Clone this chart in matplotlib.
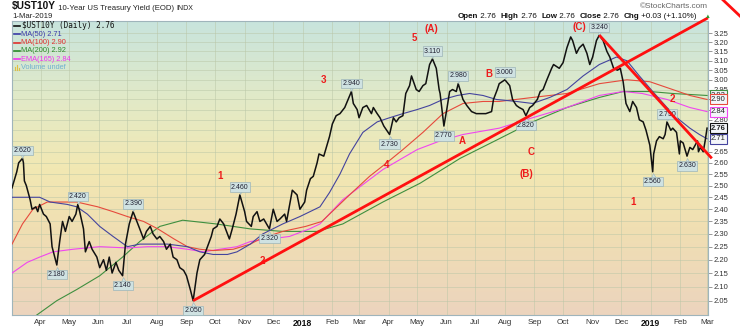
import numpy as np
import pandas as pd
import matplotlib
matplotlib.use("Agg")
from matplotlib import pyplot as plt
from matplotlib.colors import LinearSegmentedColormap
from matplotlib.lines import Line2D
from matplotlib.transforms import offset_copy
from matplotlib.ticker import FixedLocator, NullLocator, NullFormatter, FuncFormatter

plt.rcParams['font.family'] = 'sans-serif'
plt.rcParams['font.sans-serif'] = ['Liberation Sans', 'DejaVu Sans']

# --- daily close of the 10 year yield (%) ---
dates = [
    '2017-03-02', '2017-03-07', '2017-03-09', '2017-03-13', '2017-03-14', '2017-03-15', '2017-03-17',
    '2017-03-21', '2017-03-23', '2017-03-27', '2017-03-29', '2017-03-31', '2017-04-04', '2017-04-07',
    '2017-04-11', '2017-04-13', '2017-04-18', '2017-04-21', '2017-04-24', '2017-04-27', '2017-05-01',
    '2017-05-04', '2017-05-08', '2017-05-10', '2017-05-12', '2017-05-16', '2017-05-18', '2017-05-22',
    '2017-05-25', '2017-05-30', '2017-06-02', '2017-06-06', '2017-06-09', '2017-06-12', '2017-06-15',
    '2017-06-19', '2017-06-22', '2017-06-26', '2017-06-29', '2017-07-03', '2017-07-07', '2017-07-11',
    '2017-07-14', '2017-07-18', '2017-07-21', '2017-07-25', '2017-07-28', '2017-08-01', '2017-08-04',
    '2017-08-08', '2017-08-11', '2017-08-15', '2017-08-18', '2017-08-22', '2017-08-25', '2017-08-29',
    '2017-09-01', '2017-09-05', '2017-09-08', '2017-09-12', '2017-09-15', '2017-09-20', '2017-09-22',
    '2017-09-27', '2017-09-29', '2017-10-03', '2017-10-06', '2017-10-10', '2017-10-16', '2017-10-19',
    '2017-10-23', '2017-10-27', '2017-11-01', '2017-11-03', '2017-11-08', '2017-11-10', '2017-11-14',
    '2017-11-17', '2017-11-21', '2017-11-27', '2017-11-29', '2017-12-01', '2017-12-05', '2017-12-08',
    '2017-12-13', '2017-12-15', '2017-12-21', '2017-12-26', '2017-12-29', '2018-01-03', '2018-01-05',
    '2018-01-09', '2018-01-12', '2018-01-16', '2018-01-18', '2018-01-23', '2018-01-29', '2018-02-01',
    '2018-02-05', '2018-02-09', '2018-02-14', '2018-02-21', '2018-02-23', '2018-02-27', '2018-03-01',
    '2018-03-05', '2018-03-09', '2018-03-14', '2018-03-16', '2018-03-20', '2018-03-23', '2018-03-27',
    '2018-04-02', '2018-04-04', '2018-04-06', '2018-04-09', '2018-04-12', '2018-04-16', '2018-04-19',
    '2018-04-23', '2018-04-25', '2018-04-30', '2018-05-03', '2018-05-07', '2018-05-10', '2018-05-14',
    '2018-05-17', '2018-05-21', '2018-05-24', '2018-05-25', '2018-05-29', '2018-06-01', '2018-06-04',
    '2018-06-07', '2018-06-11', '2018-06-13', '2018-06-18', '2018-06-22', '2018-06-27', '2018-07-02',
    '2018-07-06', '2018-07-12', '2018-07-18', '2018-07-20', '2018-07-24', '2018-07-26', '2018-08-01',
    '2018-08-06', '2018-08-09', '2018-08-13', '2018-08-16', '2018-08-20', '2018-08-23', '2018-08-27',
    '2018-08-30', '2018-09-04', '2018-09-07', '2018-09-10', '2018-09-14', '2018-09-19', '2018-09-21',
    '2018-09-27', '2018-10-01', '2018-10-05', '2018-10-09', '2018-10-11', '2018-10-15', '2018-10-18',
    '2018-10-22', '2018-10-26', '2018-10-29', '2018-11-01', '2018-11-05', '2018-11-08', '2018-11-12',
    '2018-11-16', '2018-11-19', '2018-11-23', '2018-11-27', '2018-11-30', '2018-12-03', '2018-12-06',
    '2018-12-10', '2018-12-13', '2018-12-17', '2018-12-20', '2018-12-24', '2018-12-27', '2018-12-31',
    '2019-01-03', '2019-01-04', '2019-01-07', '2019-01-10', '2019-01-14', '2019-01-16', '2019-01-18',
    '2019-01-22', '2019-01-24', '2019-01-28', '2019-01-31', '2019-02-01', '2019-02-04', '2019-02-08',
    '2019-02-11', '2019-02-14', '2019-02-19', '2019-02-20', '2019-02-22', '2019-02-25', '2019-02-27',
    '2019-03-01',
]
ust10y = [
    2.49, 2.56, 2.60, 2.62, 2.60, 2.52, 2.50,
    2.44, 2.40, 2.41, 2.39, 2.42, 2.38, 2.37,
    2.34, 2.25, 2.18, 2.27, 2.35, 2.31, 2.37,
    2.35, 2.38, 2.42, 2.39, 2.32, 2.23, 2.27,
    2.24, 2.21, 2.17, 2.20, 2.16, 2.21, 2.15,
    2.19, 2.16, 2.14, 2.26, 2.34, 2.39, 2.35,
    2.32, 2.28, 2.31, 2.33, 2.30, 2.28, 2.29,
    2.27, 2.24, 2.26, 2.21, 2.20, 2.17, 2.16,
    2.14, 2.09, 2.05, 2.15, 2.20, 2.22, 2.24,
    2.29, 2.32, 2.33, 2.36, 2.34, 2.28, 2.32,
    2.38, 2.46, 2.39, 2.35, 2.33, 2.37, 2.39,
    2.35, 2.36, 2.32, 2.36, 2.40, 2.35, 2.36,
    2.38, 2.35, 2.48, 2.46, 2.40, 2.43, 2.48,
    2.53, 2.54, 2.60, 2.64, 2.63, 2.72, 2.78,
    2.82, 2.83, 2.86, 2.94, 2.88, 2.85, 2.81,
    2.86, 2.87, 2.83, 2.86, 2.83, 2.81, 2.77,
    2.73, 2.77, 2.81, 2.79, 2.81, 2.82, 2.93,
    2.97, 3.02, 2.95, 2.94, 2.97, 2.98, 3.08,
    3.11, 3.06, 2.95, 2.93, 2.77, 2.85, 2.94,
    2.95, 2.94, 2.98, 2.90, 2.87, 2.84, 2.83,
    2.83, 2.83, 2.84, 2.90, 2.95, 2.98, 3.00,
    2.97, 2.90, 2.87, 2.86, 2.85, 2.82, 2.86,
    2.87, 2.90, 2.94, 2.95, 3.00, 3.06, 3.08,
    3.06, 3.09, 3.17, 3.23, 3.21, 3.14, 3.17,
    3.19, 3.14, 3.08, 3.12, 3.21, 3.24, 3.21,
    3.15, 3.12, 3.06, 3.05, 3.06, 2.99, 2.88,
    2.84, 2.89, 2.86, 2.80, 2.79, 2.75, 2.68,
    2.56, 2.64, 2.70, 2.72, 2.71, 2.73, 2.79,
    2.75, 2.76, 2.74, 2.64, 2.70, 2.69, 2.63,
    2.67, 2.66, 2.70, 2.65, 2.67, 2.65, 2.70,
    2.76,
]

# --- moving averages, sampled along the curves ---
ma50_dates = ['2017-03-02', '2017-03-21', '2017-03-31', '2017-04-11', '2017-04-29', '2017-05-09',
              '2017-05-20', '2017-06-02', '2017-06-16', '2017-07-01', '2017-07-14', '2017-07-28',
              '2017-08-12', '2017-09-02', '2017-09-15', '2017-09-29', '2017-10-14', '2017-10-24',
              '2017-11-07', '2017-11-20', '2017-12-11', '2017-12-29', '2018-01-19', '2018-01-29',
              '2018-02-09', '2018-02-19', '2018-03-05', '2018-03-20', '2018-04-02', '2018-04-16',
              '2018-05-01', '2018-05-14', '2018-05-28', '2018-06-12', '2018-06-25', '2018-07-09',
              '2018-07-23', '2018-08-13', '2018-08-30', '2018-09-17', '2018-10-05', '2018-10-22',
              '2018-11-08', '2018-11-26', '2018-12-07', '2018-12-20', '2019-01-03', '2019-01-18',
              '2019-01-31', '2019-02-11', '2019-02-21', '2019-03-01']
ma50 = [2.45, 2.45, 2.45, 2.43, 2.42, 2.41,
        2.38, 2.33, 2.29, 2.25, 2.26, 2.26,
        2.26, 2.25, 2.23, 2.22, 2.22, 2.23,
        2.26, 2.30, 2.34, 2.37, 2.41, 2.47,
        2.55, 2.64, 2.74, 2.79, 2.81, 2.83,
        2.85, 2.87, 2.90, 2.92, 2.93, 2.92,
        2.90, 2.89, 2.88, 2.91, 2.95, 3.02,
        3.08, 3.12, 3.10, 3.02, 2.94, 2.86,
        2.80, 2.76, 2.73, 2.71]

ma100_dates = ['2017-03-02', '2017-03-13', '2017-03-24', '2017-04-08', '2017-04-22', '2017-05-09',
               '2017-05-31', '2017-06-16', '2017-07-01', '2017-07-18', '2017-08-02', '2017-08-19',
               '2017-09-02', '2017-09-15', '2017-09-29', '2017-10-20', '2017-11-07', '2017-11-17',
               '2017-12-11', '2018-01-04', '2018-01-21', '2018-02-19', '2018-03-12', '2018-03-30',
               '2018-04-16', '2018-05-07', '2018-05-28', '2018-06-18', '2018-07-09', '2018-07-26',
               '2018-08-30', '2018-10-05', '2018-11-08', '2018-12-07', '2018-12-31', '2019-01-24',
               '2019-02-11', '2019-03-01']
ma100 = [2.26, 2.34, 2.40, 2.43, 2.43, 2.43,
         2.41, 2.39, 2.37, 2.35, 2.32, 2.28,
         2.25, 2.24, 2.235, 2.24, 2.26, 2.28,
         2.31, 2.33, 2.35, 2.46, 2.54, 2.60,
         2.66, 2.74, 2.83, 2.88, 2.89, 2.89,
         2.91, 2.93, 2.98, 3.00, 2.99, 2.95,
         2.92, 2.90]

ma200_dates = ['2017-03-28', '2017-04-18', '2017-05-09', '2017-06-02', '2017-06-26', '2017-07-14',
               '2017-08-04', '2017-08-28', '2017-10-02', '2017-11-07', '2017-12-11', '2018-01-16',
               '2018-02-12', '2018-03-26', '2018-05-04', '2018-06-15', '2018-07-26', '2018-08-30',
               '2018-10-05', '2018-11-08', '2018-12-03', '2018-12-31', '2019-01-24', '2019-03-01']
ma200 = [2.00, 2.05, 2.09, 2.14, 2.21, 2.27,
         2.33, 2.355, 2.34, 2.32, 2.31, 2.31,
         2.34, 2.43, 2.51, 2.62, 2.71, 2.79,
         2.86, 2.91, 2.94, 2.94, 2.93, 2.92]

ema165_dates = ['2017-03-02', '2017-03-18', '2017-03-31', '2017-04-14', '2017-05-05', '2017-06-02',
                '2017-07-01', '2017-07-22', '2017-08-12', '2017-09-02', '2017-09-19', '2017-10-06',
                '2017-10-24', '2017-11-07', '2017-11-27', '2017-12-18', '2018-01-08', '2018-01-19',
                '2018-02-12', '2018-03-26', '2018-05-01', '2018-05-25', '2018-06-18', '2018-07-26',
                '2018-08-30', '2018-10-05', '2018-11-08', '2018-12-03', '2018-12-23', '2019-01-18',
                '2019-02-11', '2019-03-01']
ema165 = [2.15, 2.19, 2.21, 2.23, 2.24, 2.25,
          2.245, 2.25, 2.25, 2.24, 2.23, 2.24,
          2.25, 2.27, 2.28, 2.29, 2.32, 2.34,
          2.44, 2.57, 2.66, 2.70, 2.73, 2.76,
          2.81, 2.86, 2.92, 2.94, 2.93, 2.90,
          2.86, 2.84]

# peaks / troughs that get a value tag
tag_dates = ['2017-03-13', '2017-04-18', '2017-05-10', '2017-06-26', '2017-07-07', '2017-09-08',
             '2017-10-27', '2017-11-27', '2018-02-21', '2018-04-02', '2018-05-17', '2018-05-29',
             '2018-06-13', '2018-08-01', '2018-08-23', '2018-11-08', '2019-01-03', '2019-01-18',
             '2019-02-08']
tag_side = ['hi', 'lo', 'hi', 'lo', 'hi', 'lo', 'hi', 'lo', 'hi', 'lo', 'hi', 'lo',
            'hi', 'hi', 'lo', 'hi', 'lo', 'hi', 'lo']

# elliott wave counts
wave_text = ['1', '2', '3', '4', '5', '(A)', 'A', 'B', 'C', '(B)', '(C)', '1', '2']
wave_dates = ['2017-10-06', '2017-11-20', '2018-01-23', '2018-03-30', '2018-04-28', '2018-05-16',
              '2018-06-17', '2018-07-15', '2018-08-28', '2018-08-24', '2018-10-18', '2018-12-13',
              '2019-01-24']
wave_vals = [2.54, 2.197, 3.00, 2.59, 3.224, 3.274, 2.70, 3.03, 2.65, 2.55, 3.285, 2.43, 2.90]

# trend lines (start, end)
up_trend = (['2017-09-08', '2019-03-02'], [2.05, 3.338])
down_trend = (['2018-11-08', '2019-03-06'], [3.24, 2.62])

month_ticks = pd.date_range('2017-04-01', '2019-03-01', freq='MS')
y_ticks = np.round(np.arange(2.05, 3.2501, 0.05), 2)

# ------------------------------------------------------------------
W, H = 740, 327
fig = plt.figure(figsize=(W / 100, H / 100), dpi=100)
fig.patch.set_facecolor('white')


def fx(p):
    return p / W


def fy(p):
    return 1 - p / H


ax = fig.add_axes([fx(12), fy(315), (708 - 12) / W, (315 - 21) / H])

price = pd.Series(ust10y, index=pd.to_datetime(dates))

# background gradient
cmap = LinearSegmentedColormap.from_list('bg', [
    (0.0, '#ecd4be'), (0.3, '#f0dfb2'), (0.5, '#f2e8b3'), (0.72, '#e3eac6'), (1.0, '#c8e4dd')])
grad = np.linspace(0, 1, 256).reshape(-1, 1)
ax.imshow(grad, extent=[0, 1, 0, 1], transform=ax.transAxes, origin='lower',
          cmap=cmap, aspect='auto', zorder=0)

ax.set_yscale('log')
ax.set_ylim(2.0, 3.32)
ax.set_xlim(pd.Timestamp('2017-03-02'), pd.Timestamp('2019-03-02'))

# last values shown in boxes on the right axis
right_boxes = [(ma200[-1], '#3f8f3f', False), (ma100[-1], '#e64a3c', False),
               (ema165[-1], '#f046f0', False), (ma50[-1], '#44449e', False),
               (ust10y[-1], '#111111', True)]


def tick_label(v, pos):
    # ticks sitting under a value box are left blank
    for b, _, _ in right_boxes:
        if abs(np.log(v / b)) * 579 < 5:
            return ''
    return '%.2f' % v


ax.yaxis.set_major_locator(FixedLocator(y_ticks))
ax.yaxis.set_major_formatter(FuncFormatter(tick_label))
ax.yaxis.set_minor_locator(NullLocator())
ax.yaxis.set_minor_formatter(NullFormatter())
ax.yaxis.tick_right()
ax.tick_params(axis='y', length=3, width=0.6, color='#888888', pad=1,
               labelsize=5.5, labelcolor='#333333')

ax.set_xticks(month_ticks)
ax.set_xticklabels([d.strftime('%Y') if d.month == 1 else d.strftime('%b') for d in month_ticks])
ax.tick_params(axis='x', length=0, pad=3, labelsize=5.8, labelcolor='#333333')
for lab in ax.get_xticklabels():
    if lab.get_text().isdigit():
        lab.set_fontweight('bold')
        lab.set_color('#111111')
        lab.set_fontsize(6.2)

ax.grid(True, color='#b9c6a6', lw=0.5, alpha=0.7, zorder=1)
ax.set_axisbelow(True)
for s in ax.spines.values():
    s.set_color('#9fb4bb')
    s.set_linewidth(0.8)

# moving averages
ax.plot(pd.to_datetime(ma200_dates), ma200, color='#3f8f3f', lw=0.8, zorder=3)
ax.plot(pd.to_datetime(ema165_dates), ema165, color='#f046f0', lw=0.8, zorder=3)
ax.plot(pd.to_datetime(ma100_dates), ma100, color='#e64a3c', lw=0.8, zorder=3)
ax.plot(pd.to_datetime(ma50_dates), ma50, color='#44449e', lw=0.8, zorder=3)

# price
ax.plot(price.index, price.values, color='#111111', lw=1.1, zorder=4)

# value tags on peaks and troughs
tag_fc = '#cfe2e2'
tag_ec = '#9db5b8'
for d, side in zip(tag_dates, tag_side):
    t = pd.Timestamp(d)
    v = price[t]
    up = 1 if side == 'hi' else -1
    tri = offset_copy(ax.transData, fig=fig, x=0, y=up * 2.6, units='points')
    ax.plot([t], [v], marker='v' if up > 0 else '^', ms=3.6, mfc=tag_fc, mec=tag_ec,
            mew=0.4, transform=tri, zorder=5)
    ax.annotate('%.3f' % v, xy=(t, v), xytext=(0, up * (5.6 if up > 0 else 7.0)),
                textcoords='offset points', ha='center', va='center', fontsize=5,
                color='#222233', zorder=6,
                bbox=dict(boxstyle='square,pad=0.18', fc=tag_fc, ec=tag_ec, lw=0.5))

# wave labels
for s, d, v in zip(wave_text, wave_dates, wave_vals):
    ax.text(pd.Timestamp(d), v, s, color='#ee1c1c', fontsize=7, fontweight='bold',
            ha='center', va='center', zorder=6)

# trend lines
ax.plot(pd.to_datetime(up_trend[0]), up_trend[1], color='#ff1010', lw=2.0,
        solid_capstyle='butt', clip_on=False, zorder=7)
ax.plot(pd.to_datetime(down_trend[0]), down_trend[1], color='#ff1010', lw=2.0,
        solid_capstyle='butt', clip_on=False, zorder=7)
fig.add_artist(Line2D([fx(722), fx(741)], [fy(-1), fy(17)], transform=fig.transFigure,
                      color='#ff1010', lw=2.0))

for i, (v, c, bold) in enumerate(right_boxes):
    ax.annotate('%.2f' % v, xy=(1, v), xycoords=('axes fraction', 'data'),
                xytext=(2.2, 0), textcoords='offset points', ha='left', va='center',
                fontsize=5.5, color='#222222', fontweight='bold' if bold else 'normal',
                annotation_clip=False, zorder=10 + i,
                bbox=dict(boxstyle='square,pad=0.2', fc='#f4f6fa', ec=c, lw=0.8))

# legend block
legend_rows = [
    ('$UST10Y (Daily) %.2f' % ust10y[-1], '#111111'),
    ('MA(50) %.2f' % ma50[-1], '#3a3aa8'),
    ('MA(100) %.2f' % ma100[-1], '#e03030'),
    ('MA(200) %.2f' % ma200[-1], '#2a8a2a'),
    ('EMA(165) %.2f' % ema165[-1], '#f030f0'),
    ('Volume undef', '#6fb0d0'),
]
for i, (s, c) in enumerate(legend_rows):
    yy = 26 + i * 8.3
    if i == 0:
        fig.text(fx(22), fy(yy), s, fontsize=5.6, color=c, va='center',
                 family='DejaVu Sans Mono')
    else:
        fig.text(fx(21), fy(yy), s, fontsize=5.3, color=c, va='center')
    if i < 5:
        fig.add_artist(Line2D([fx(14), fx(20)], [fy(yy), fy(yy)], transform=fig.transFigure,
                              color=c, lw=1.2))
    else:
        for bx, bh in zip([15, 17, 19], [3, 5, 2]):
            fig.add_artist(Line2D([fx(bx), fx(bx)], [fy(yy + 2), fy(yy + 2 - bh)],
                                  transform=fig.transFigure, color='#e0c040', lw=0.8))


# header
def chain(parts, x, y):
    prev = None
    for s, size, weight, color in parts:
        if prev is None:
            prev = fig.text(fx(x), fy(y), s, fontsize=size, fontweight=weight,
                            color=color, va='bottom')
        else:
            prev = ax.annotate(s, xy=(1, 0), xycoords=prev, va='bottom', ha='left',
                               fontsize=size, fontweight=weight, color=color,
                               annotation_clip=False)
    return prev


chain([('$UST10Y', 7.3, 'bold', '#111111'),
       (' 10-Year US Treasury Yield (EOD) ', 5.6, 'normal', '#222222'),
       ('INDX', 5.0, 'normal', '#222222')], 12, 11.5)
fig.text(fx(12), fy(16), '1-Mar-2019', fontsize=5.6, color='#222222', va='center')
fig.text(fx(708), fy(7), '\u00a9StockCharts.com', fontsize=5.9, color='#666666',
         ha='right', va='center')

quote = [('Open', 'bold'), (' 2.76  ', 'normal'), ('High', 'bold'), (' 2.76  ', 'normal'),
         ('Low', 'bold'), (' 2.76  ', 'normal'), ('Close', 'bold'), (' 2.76  ', 'normal'),
         ('Chg', 'bold'), (' +0.03 (+1.10%)', 'normal')]
chain([(s, 5.8, w, '#111111') for s, w in quote], 458, 20)
fig.text(fx(708), fy(16), '\u25b2', fontsize=4.2, color='#2e9a2e', ha='center', va='center')

fig.savefig('out.png', dpi=100)
